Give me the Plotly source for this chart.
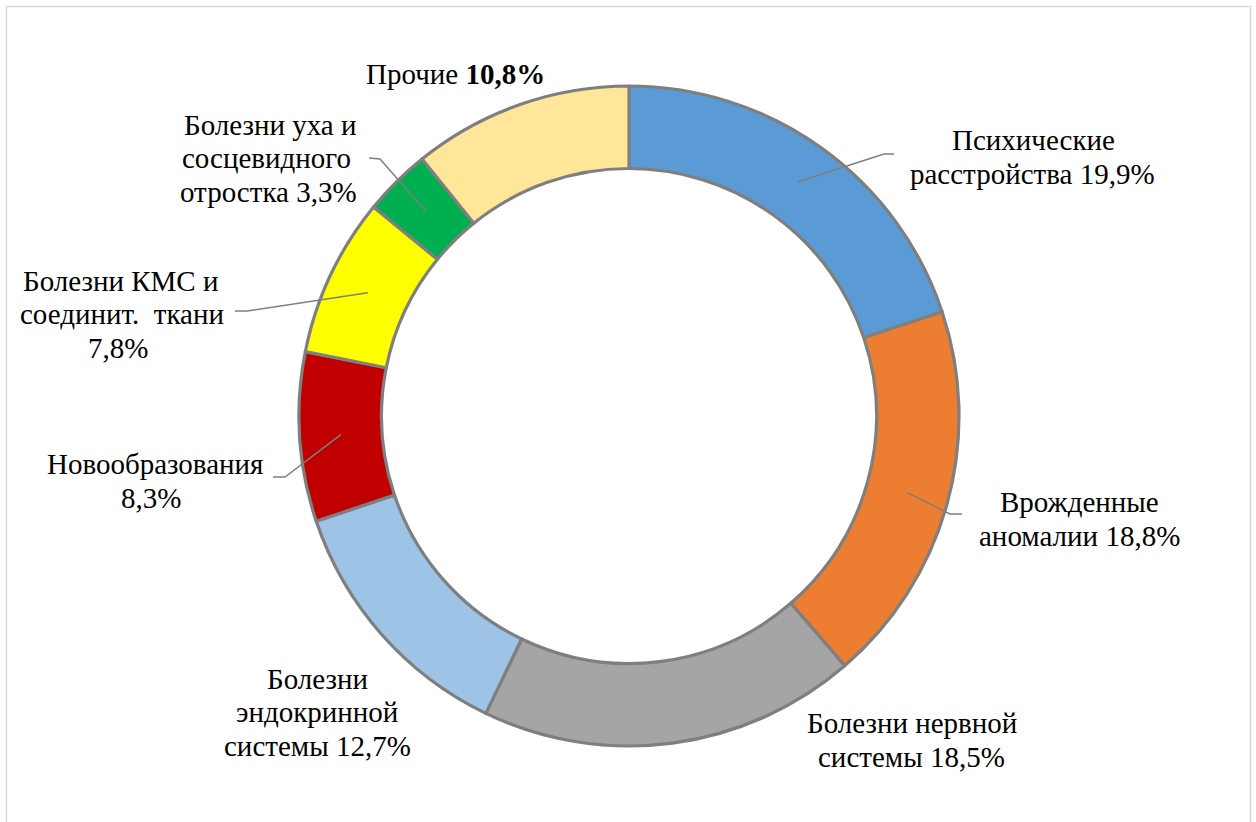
import math
import plotly.graph_objects as go

# Structure of disability causes, share of total (%)
categories = [
    "Психические расстройства",
    "Врожденные аномалии",
    "Болезни нервной системы",
    "Болезни эндокринной системы",
    "Новообразования",
    "Болезни КМС и соединит. ткани",
    "Болезни уха и сосцевидного отростка",
    "Прочие",
]
values = [19.9, 18.8, 18.5, 12.7, 8.3, 7.8, 3.3, 10.8]
colors = ["#5B9BD5", "#ED7D31", "#A5A5A5", "#9DC3E6",
          "#C00000", "#FFFF00", "#00B050", "#FFE699"]

# Label lines for each slice
label_lines = [
    ["Психические", "расстройства 19,9%"],
    ["Врожденные", "аномалии 18,8%"],
    ["Болезни нервной", "системы 18,5%"],
    ["Болезни", "эндокринной", "системы 12,7%"],
    ["Новообразования", "8,3%"],
    ["Болезни КМС и", "соединит.\u00a0 ткани", "7,8%"],
    ["Болезни уха и", "сосцевидного", "отростка 3,3%"],
    ["Прочие <b>10,8%</b>"],
]

W, H = 1256, 822
CX, CY = 629, 416          # donut centre in pixels
R_OUT = 330
HOLE = 0.75
R_MID = R_OUT * (1 + HOLE) / 2
LINE_H = 33.5              # line pitch of the labels, px
FONT_SIZE = 29

# label placement: x centre of each line (px) and y centre of the block (px)
label_x = [[1033, 1032], [1079, 1079], [912, 911], [317, 317, 317],
           [155, 151], [120, 122, 118], [270, 266, 268], [456]]
label_y = [157, 519, 740, 712, 481, 314, 158, 74]

# leader elbows (px) for labels that have a connector
leader_elbow = [[(884, 154), (894, 154)],
                [(950, 514), (962, 514)],
                None,
                None,
                [(285, 477), (273, 477)],
                [(247, 311), (235, 311)],
                [(380, 159), (369, 158)],
                None]

FONT = "Liberation Serif"


def px(x):
    return x / W


def py(y):
    return 1 - y / H


fig = go.Figure(go.Pie(
    labels=categories,
    values=values,
    hole=HOLE,
    sort=False,
    direction="clockwise",
    rotation=0,
    textinfo="none",
    hoverinfo="label+percent",
    marker=dict(colors=colors, line=dict(color="#7F7F7F", width=3.2)),
    domain=dict(x=[px(CX - R_OUT), px(CX + R_OUT)],
                y=[py(CY + R_OUT), py(CY - R_OUT)]),
    showlegend=False,
))

shapes = [dict(type="rect", xref="paper", yref="paper",
               x0=px(6.5), x1=px(1250.5), y0=-0.05, y1=py(6.5),
               line=dict(color="#D9D9D9", width=1.5), layer="below")]

total = sum(values)
cum = 0.0
for i, v in enumerate(values):
    mid = (cum + v / 2) / total * 2 * math.pi
    cum += v
    if leader_elbow[i] is None:
        continue
    sx = CX + R_MID * math.sin(mid)
    sy = CY - R_MID * math.cos(mid)
    pts = [(sx, sy)] + leader_elbow[i]
    path = "M " + " L ".join(f"{px(x)},{py(y)}" for x, y in pts)
    shapes.append(dict(type="path", xref="paper", yref="paper", path=path,
                       line=dict(color="#7F7F7F", width=1.5)))

annotations = []
for xs, ly, lines in zip(label_x, label_y, label_lines):
    n = len(lines)
    for k, (lx, line) in enumerate(zip(xs, lines)):
        yy = ly + (k - (n - 1) / 2) * LINE_H
        annotations.append(dict(
            x=px(lx), y=py(yy), xref="paper", yref="paper",
            text=line, showarrow=False, xanchor="center", yanchor="middle",
            font=dict(family=FONT, size=FONT_SIZE, color="#000000"),
        ))

fig.update_layout(
    width=W, height=H,
    margin=dict(l=0, r=0, t=0, b=0),
    paper_bgcolor="white",
    plot_bgcolor="white",
    font=dict(family=FONT),
    shapes=shapes,
    annotations=annotations,
)

fig.write_html("out.html")
